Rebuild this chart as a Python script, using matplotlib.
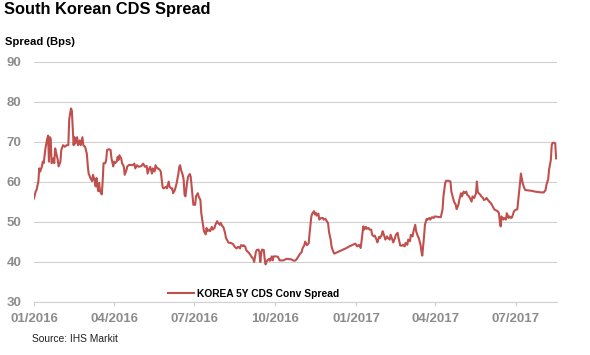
"""South Korean CDS spread (KOREA 5Y CDS Conv Spread, Bps), Jan 2016 - Aug 2017.

Values read off the reference chart; x is kept as day offsets from START.
"""

import matplotlib
matplotlib.use("Agg")
import matplotlib.dates as mdates
import matplotlib.pyplot as plt
import pandas as pd

plt.rcParams["font.family"] = ["Liberation Sans", "DejaVu Sans"]

# ---------------------------------------------------------------------------
START = pd.Timestamp("2016-01-01")
X_END_DAYS = 594

DAY_OFFSET = [
    0, 2, 3, 5, 6, 7, 9, 10, 11, 13, 15, 16, 17, 18, 19, 20, 22, 23, 24, 25,
    27, 28, 30, 31, 33, 35, 37, 39, 40, 42, 43, 44, 45, 46, 47, 49, 50, 52,
    53, 55, 56, 58, 60, 61, 62, 64, 66, 67, 69, 70, 71, 72, 73, 74, 75, 77,
    78, 79, 81, 82, 83, 85, 87, 88, 90, 91, 92, 94, 95, 96, 97, 99, 100, 102,
    103, 105, 106, 108,
    112, 114, 115, 117, 119, 122, 124, 126, 128, 129, 131, 132, 134, 135, 137,
    138, 140, 141, 143, 144, 146, 147, 150, 151, 153, 154, 156, 157, 158, 160,
    162, 164, 165, 166, 167, 169, 170, 171, 172, 174, 175, 177, 178, 180, 181,
    183, 184, 186, 187, 189, 190, 192, 193, 195, 196, 197, 199, 200, 202, 203,
    205, 206, 208, 209, 211, 212, 214, 215, 217, 218, 220, 221, 223,
    226, 228, 230, 232, 234, 235, 237, 238, 240, 241, 243, 244, 246, 247, 249,
    250, 252, 253, 255, 256, 257, 258, 259, 261, 262, 263, 264, 265, 267, 268,
    270, 271, 272, 275, 277, 279, 283, 287, 290, 292, 294, 296, 298, 300, 302,
    304, 305, 307, 308, 310, 312, 313, 315, 316, 318, 319, 320, 321, 323, 324,
    326, 328, 329, 331, 332, 334, 335, 337, 338, 340, 341, 343,
    347, 351, 355, 358, 362, 365, 367, 369, 371, 372, 374, 375, 377, 378, 380,
    381, 383, 384, 386, 387, 389, 390, 392, 393, 395, 396, 398, 399, 401, 402,
    404, 405, 407, 408, 410, 411, 413, 414, 416, 418, 419, 421, 422, 424, 425,
    427, 428, 430, 431, 433, 434, 436, 437, 439, 440, 441, 443, 444, 446, 447,
    449, 450, 452, 454, 455, 458,
    462, 464, 465, 467, 468, 471, 473, 474, 476, 477, 479, 480, 482, 483, 485,
    486, 488, 489, 491, 492, 494, 496, 497, 498, 500, 502, 503, 504, 505, 507,
    508, 510, 511, 513, 514, 516, 517, 519, 520, 522, 523, 525, 527, 528, 529,
    530, 531, 533, 534, 536, 537, 539, 540, 542, 543, 545, 546, 548, 549, 550,
    552, 553, 554, 555, 557, 558, 561, 565, 569, 573, 576, 579, 581, 582, 584,
    585, 587, 588, 589, 591, 592, 593,
]

SPREAD_BPS = [
    55.9, 57.7, 58.1, 60.2, 63.4, 62.6, 63.9, 65.1, 64.7, 68.4, 70.8, 71.6,
    65.1, 71.2, 70.8, 64.7, 65.9, 64.7, 68.4, 67.5, 65.5, 63.9, 65.1, 68.0,
    69.2, 68.8, 69.2, 69.2, 75.7, 78.4, 77.8, 73.3, 69.2, 71.2, 69.6, 71.2,
    69.2, 70.4, 69.2, 71.2, 69.2, 68.8, 67.1, 64.3, 62.2, 61.0, 60.2, 61.8,
    60.2, 58.9, 61.0, 58.9, 57.7, 59.8, 57.7, 56.9, 60.2, 64.7, 64.7, 65.5,
    68.0, 68.2, 68.0, 65.9, 63.9, 65.1, 64.7, 65.1, 66.3, 65.5, 66.7, 65.9,
    64.7, 63.9, 61.8, 63.0, 63.9, 64.3,
    64.2, 64.6, 63.4, 64.2, 63.8, 64.0, 64.6, 63.8, 64.0, 62.1, 63.4, 63.8,
    62.1, 63.4, 62.6, 64.2, 63.4, 63.4, 63.0, 62.6, 58.8, 58.4, 58.8, 58.4,
    60.1, 58.8, 58.4, 58.4, 57.2, 58.0, 59.7, 62.1, 63.8, 64.2, 63.0, 61.7,
    60.5, 56.8, 56.4, 60.1, 61.3, 62.0, 61.3, 56.8, 54.3, 54.3, 56.4, 57.2,
    56.4, 55.5, 52.2, 49.3, 47.7, 46.9, 48.5, 47.7, 48.1, 47.7, 48.8, 48.1,
    48.5, 49.3, 50.2, 49.8, 49.3, 49.8, 48.9, 48.8, 47.3, 46.0, 45.2, 44.8,
    44.8,
    44.5, 43.8, 43.4, 43.8, 43.4, 44.2, 44.0, 44.2, 43.8, 43.0, 42.5, 42.3,
    41.7, 41.3, 40.8, 40.0, 42.5, 43.0, 43.1, 42.5, 40.0, 42.1, 43.1, 43.0,
    40.8, 39.4, 40.0, 40.4, 40.8, 40.3, 41.4, 40.4, 41.4, 41.4, 41.3, 40.4,
    40.4, 40.8, 40.7, 40.7, 40.4, 40.3, 40.6, 41.3, 42.0, 42.5, 43.4, 44.2,
    45.1, 44.2, 44.7, 47.2, 51.4, 52.1, 52.7, 51.9, 52.3, 51.6, 52.1, 50.6,
    51.0, 51.0, 50.6, 50.8, 50.4, 49.7, 47.6, 45.5, 43.8, 42.5, 42.1, 42.3,
    42.7, 43.1, 43.5, 43.9, 44.3, 44.6, 43.9, 44.3, 43.5, 45.2, 48.9, 48.1,
    48.8, 48.3, 48.5, 48.1, 48.1, 46.8, 46.4, 46.6, 45.6, 44.9, 46.3, 46.0,
    46.8, 47.7, 46.4, 45.6, 46.4, 46.0, 45.6, 46.8, 45.6, 44.9, 46.0, 46.8,
    47.3, 46.0, 44.1, 44.1, 44.3, 43.9, 44.8, 44.3, 45.6, 45.2, 46.8, 46.4,
    47.7, 49.3, 47.7, 46.4, 46.0, 44.3, 42.7, 41.6, 46.4, 49.3, 50.8, 50.6,
    51.0, 50.6, 51.2, 51.0, 51.4, 51.3,
    51.2, 53.1, 56.4, 59.7, 60.3, 60.3, 60.1, 57.6, 56.0, 55.1, 54.3, 53.2,
    54.3, 55.5, 57.2, 56.4, 57.6, 57.2, 57.6, 56.8, 56.4, 55.5, 55.1, 56.4,
    56.0, 57.2, 60.1, 57.6, 57.2, 56.8, 56.4, 56.0, 55.5, 55.7, 56.0, 55.4,
    55.1, 54.7, 54.3, 53.5, 53.1, 52.9, 52.6, 52.2, 50.2, 48.9, 51.4, 50.6,
    51.0, 50.6, 52.2, 51.0, 51.4, 51.0, 51.2, 52.6, 52.9, 53.1, 53.2, 55.5,
    59.7, 62.1, 60.9, 59.7, 58.4, 58.0, 57.9, 57.8, 57.6, 57.5, 57.4, 57.4,
    58.0, 59.3, 60.7, 63.1, 65.5, 69.2, 69.8, 69.8, 69.6, 65.9,
]

Y_TICKS = [30, 40, 50, 60, 70, 80, 90]
X_TICKS = ["2016-01-01", "2016-04-01", "2016-07-01", "2016-10-01",
           "2017-01-01", "2017-04-01", "2017-07-01"]

TITLE = "South Korean CDS Spread"
Y_LABEL = "Spread (Bps)"
SERIES_LABEL = "KOREA 5Y CDS Conv Spread"
SOURCE = "Source: IHS Markit"

LINE_RED = "#c0504d"
GRID_GREY = "#d0d0d0"
TICK_GREY = "#8c8c8c"

W, H = 590, 355


def main() -> None:
    dates = START + pd.to_timedelta(DAY_OFFSET, unit="D")

    fig = plt.figure(figsize=(W / 100, H / 100), dpi=100)
    ax = fig.add_axes([34 / W, 53 / H, 523 / W, 240 / H])

    ax.plot(dates, SPREAD_BPS, color=LINE_RED, lw=1.5, label=SERIES_LABEL)

    ax.set_ylim(30, 90)
    ax.set_yticks(Y_TICKS)
    ax.set_xlim(START, START + pd.Timedelta(days=X_END_DAYS))
    ax.set_xticks(pd.to_datetime(X_TICKS))
    ax.xaxis.set_major_formatter(mdates.DateFormatter("%m/%Y"))

    ax.grid(axis="y", color=GRID_GREY, lw=0.8)
    ax.set_axisbelow(True)
    for side in ("top", "right", "left"):
        ax.spines[side].set_visible(False)
    ax.spines["bottom"].set_color(GRID_GREY)
    ax.spines["bottom"].set_linewidth(0.8)

    ax.tick_params(axis="x", colors=GRID_GREY, length=3, width=0.8, pad=5,
                   labelcolor=TICK_GREY, labelsize=9.5)
    ax.tick_params(axis="y", length=0, pad=9, labelcolor=TICK_GREY,
                   labelsize=9.5)
    for lbl in ax.get_xticklabels() + ax.get_yticklabels():
        lbl.set_fontweight("bold")

    fig.text(4 / W, 1 - 2 / H, TITLE, ha="left", va="top",
             fontsize=11.8, fontweight="bold")
    fig.text(5 / W, 1 - 37 / H, Y_LABEL, ha="left", va="top",
             fontsize=8.1, fontweight="bold")
    fig.legend(loc="center left", bbox_to_anchor=(168 / W, 1 - 294 / H),
               frameon=False, prop={"size": 7.4, "weight": "bold"},
               handlelength=2.5, handletextpad=0.35,
               borderpad=0, borderaxespad=0)
    fig.text(32 / W, 1 - 339 / H, SOURCE, ha="left", va="center",
             fontsize=7.4, color="#222222")

    fig.savefig("out.png", dpi=100)
    plt.close(fig)


if __name__ == "__main__":
    main()
